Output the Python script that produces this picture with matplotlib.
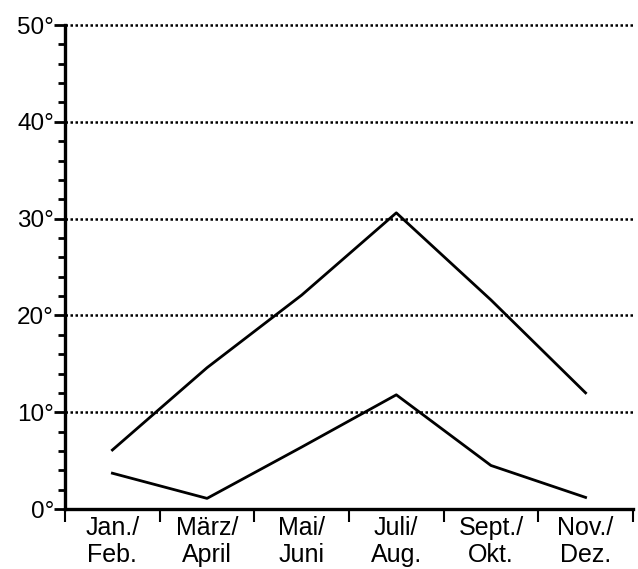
import matplotlib
matplotlib.use('Agg')
import matplotlib.pyplot as plt
import numpy as np

plt.rcParams['font.family'] = ['Liberation Sans', 'DejaVu Sans']

# two-month periods
months = ['Jan./\nFeb.', 'März/\nApril', 'Mai/\nJuni', 'Juli/\nAug.', 'Sept./\nOkt.', 'Nov./\nDez.']
upper = [6.1, 14.6, 22.1, 30.6, 21.6, 12.0]
lower = [3.7, 1.1, 6.4, 11.8, 4.5, 1.2]
yticks = [0, 10, 20, 30, 40, 50]
ylabels = ['0°', '10°', '20°', '30°', '40°', '50°']

fig = plt.figure(figsize=(6.38, 5.69), dpi=100)
ax = fig.add_axes([0.102, 0.1054, 0.890, 0.8506])

x = np.arange(len(months))
ax.plot(x, upper, color='black', lw=2, zorder=3)
ax.plot(x, lower, color='black', lw=2, zorder=3)

ax.set_xlim(-0.5, len(months) - 0.5)
ax.set_ylim(0, 50)

# dotted gridlines
for t in yticks[1:]:
    ax.axhline(t, color='black', lw=1.8, ls=(0, (1, 1)), zorder=1, clip_on=False)

ax.set_yticks(yticks)
ax.set_yticklabels(ylabels, fontsize=17.5)
ax.set_yticks(np.arange(0, 51, 2), minor=True)
ax.tick_params(axis='y', which='major', length=8, width=2, direction='out', pad=0)
ax.tick_params(axis='y', which='minor', length=5, width=2, direction='out')

ax.set_xticks(np.arange(-0.5, len(months), 1.0))
ax.set_xticklabels([])
ax.set_xticks(x, minor=True)
ax.set_xticklabels(months, minor=True, fontsize=18, linespacing=1.15)
ax.tick_params(axis='x', which='major', length=9, width=1.5, direction='out')
ax.tick_params(axis='x', which='minor', length=0, pad=5)

for s in ['top', 'right']:
    ax.spines[s].set_visible(False)
ax.spines['left'].set_linewidth(2.4)
ax.spines['bottom'].set_linewidth(2.4)

fig.savefig('out.png', dpi=100)
